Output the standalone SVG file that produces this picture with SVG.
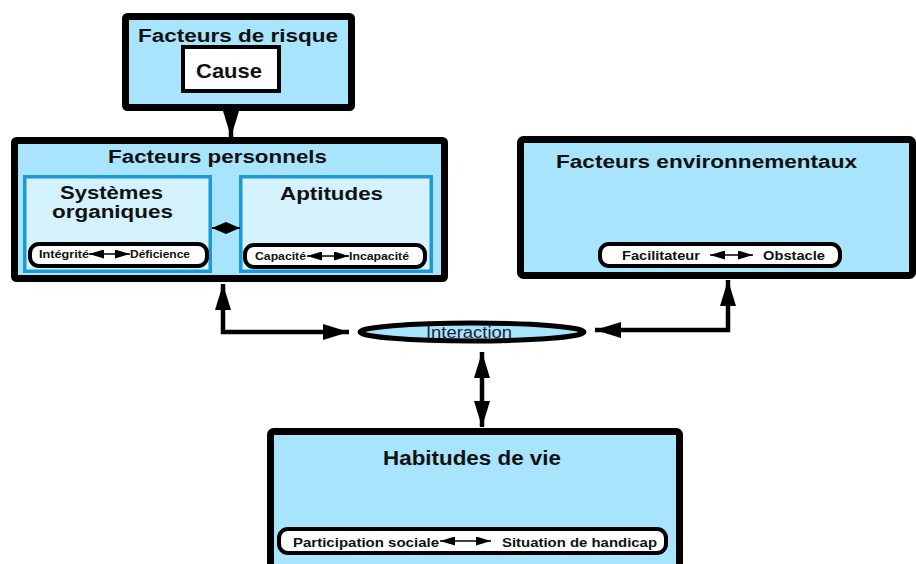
<svg xmlns="http://www.w3.org/2000/svg" width="916" height="564" viewBox="0 0 916 564">
<defs>
<style>
.box{fill:#a8e4fc;stroke:#000;stroke-width:7}
.sub{fill:#d4f2fd;stroke:#1b9ad2;stroke-width:3.5}
.pill{fill:#fff;stroke:#000;stroke-width:4}
.t{font-family:"Liberation Sans",Arial,sans-serif;font-weight:bold;fill:#111}
.big{font-size:18px}
.sm{font-size:11px}
.md{font-size:13.5px}
.conn{fill:none;stroke:#000;stroke-width:4.5}
.thin{fill:none;stroke:#000;stroke-width:1.5}
</style>
<marker id="ah" markerUnits="userSpaceOnUse" viewBox="0 0 26 16" refX="26" refY="8" markerWidth="26" markerHeight="16" orient="auto-start-reverse">
<path d="M0,0 L26,8 L0,16 z" fill="#000"/>
</marker>
<marker id="as" markerUnits="userSpaceOnUse" viewBox="0 0 14 12" refX="14" refY="6" markerWidth="14" markerHeight="12" orient="auto-start-reverse">
<path d="M0,0 L14,6 L0,12 z" fill="#000"/>
</marker>
<marker id="ap" markerUnits="userSpaceOnUse" viewBox="0 0 15 9" refX="15" refY="4.5" markerWidth="15" markerHeight="9" orient="auto-start-reverse">
<path d="M0,0 L15,4.5 L0,9 z" fill="#000"/>
</marker>
</defs>

<g id="connectors">
<line class="conn" x1="231" y1="93" x2="231" y2="137" marker-end="url(#ah)"/>
<path class="conn" d="M223,284 V332 H349" marker-start="url(#ah)" marker-end="url(#ah)"/>
<path class="conn" d="M728,280 V330 H595" marker-start="url(#ah)" marker-end="url(#ah)"/>
<line class="conn" x1="482" y1="352" x2="482" y2="427" marker-start="url(#ah)" marker-end="url(#ah)"/>
</g>

<g id="facteurs-risque">
<rect class="box" x="125.5" y="16.5" width="226" height="91" rx="2"/>
<text class="t big" x="138" y="42" textLength="200" lengthAdjust="spacingAndGlyphs">Facteurs de risque</text>
</g>
<g id="cause">
<rect x="183" y="47" width="96" height="44" fill="#fff" stroke="#000" stroke-width="4"/>
<text class="t" font-size="21" x="196" y="78" textLength="66" lengthAdjust="spacingAndGlyphs">Cause</text>
</g>

<g id="facteurs-personnels">
<rect class="box" x="14.5" y="140.5" width="430" height="138" rx="2"/>
<text class="t big" x="108" y="163" textLength="219" lengthAdjust="spacingAndGlyphs">Facteurs personnels</text>
</g>
<g id="systemes-organiques">
<rect class="sub" x="24.75" y="176.75" width="185.5" height="94.5"/>
<text class="t big" x="60" y="199" textLength="103" lengthAdjust="spacingAndGlyphs">Systèmes</text>
<text class="t big" x="52" y="218" textLength="121" lengthAdjust="spacingAndGlyphs">organiques</text>
<rect class="pill" x="30" y="244" width="177" height="22" rx="9"/>
<text class="t sm" x="39" y="258" textLength="50" lengthAdjust="spacingAndGlyphs">Intégrité</text>
<line class="thin" x1="89" y1="254" x2="130" y2="254" marker-start="url(#ap)" marker-end="url(#ap)"/>
<text class="t sm" x="130" y="258" textLength="60" lengthAdjust="spacingAndGlyphs">Déficience</text>
</g>
<g id="aptitudes">
<rect class="sub" x="240.75" y="176.75" width="190.5" height="94.5"/>
<text class="t big" x="280" y="200" textLength="103" lengthAdjust="spacingAndGlyphs">Aptitudes</text>
<rect class="pill" x="245" y="245" width="180" height="22" rx="9"/>
<text class="t sm" x="255" y="260" textLength="51" lengthAdjust="spacingAndGlyphs">Capacité</text>
<line class="thin" x1="307" y1="256" x2="349" y2="256" marker-start="url(#ap)" marker-end="url(#ap)"/>
<text class="t sm" x="349" y="260" textLength="60" lengthAdjust="spacingAndGlyphs">Incapacité</text>
</g>
<g id="sub-link">
<line x1="212" y1="228" x2="240" y2="228" stroke="#000" stroke-width="2" marker-start="url(#as)" marker-end="url(#as)"/>
</g>

<g id="facteurs-environnementaux">
<rect class="box" x="520.5" y="139.5" width="392" height="136" rx="3"/>
<text class="t big" x="556" y="168" textLength="301" lengthAdjust="spacingAndGlyphs">Facteurs environnementaux</text>
<rect class="pill" x="600" y="244" width="240" height="22" rx="9"/>
<text class="t md" x="622" y="260" textLength="78" lengthAdjust="spacingAndGlyphs">Facilitateur</text>
<line class="thin" x1="710" y1="255" x2="753" y2="255" marker-start="url(#ap)" marker-end="url(#ap)"/>
<text class="t md" x="763" y="260" textLength="62" lengthAdjust="spacingAndGlyphs">Obstacle</text>
</g>

<g id="interaction">
<ellipse cx="472" cy="332" rx="112" ry="9" fill="#a8e4fc" stroke="#000" stroke-width="5"/>
<text x="426" y="338" font-family="'Liberation Sans',Arial,sans-serif" font-size="16" fill="#1a2233" textLength="86" lengthAdjust="spacingAndGlyphs">Interaction</text>
</g>

<g id="habitudes-de-vie">
<rect class="box" x="270.5" y="431.5" width="409" height="140" rx="3"/>
<text class="t" font-size="19.5" x="383" y="465" textLength="178" lengthAdjust="spacingAndGlyphs">Habitudes de vie</text>
<rect class="pill" x="279" y="529" width="387" height="24" rx="9"/>
<text class="t md" x="293" y="547" textLength="146" lengthAdjust="spacingAndGlyphs">Participation sociale</text>
<line class="thin" x1="440" y1="541" x2="491" y2="541" marker-start="url(#ap)" marker-end="url(#ap)"/>
<text class="t md" x="502" y="547" textLength="155" lengthAdjust="spacingAndGlyphs">Situation de handicap</text>
</g>
</svg>
